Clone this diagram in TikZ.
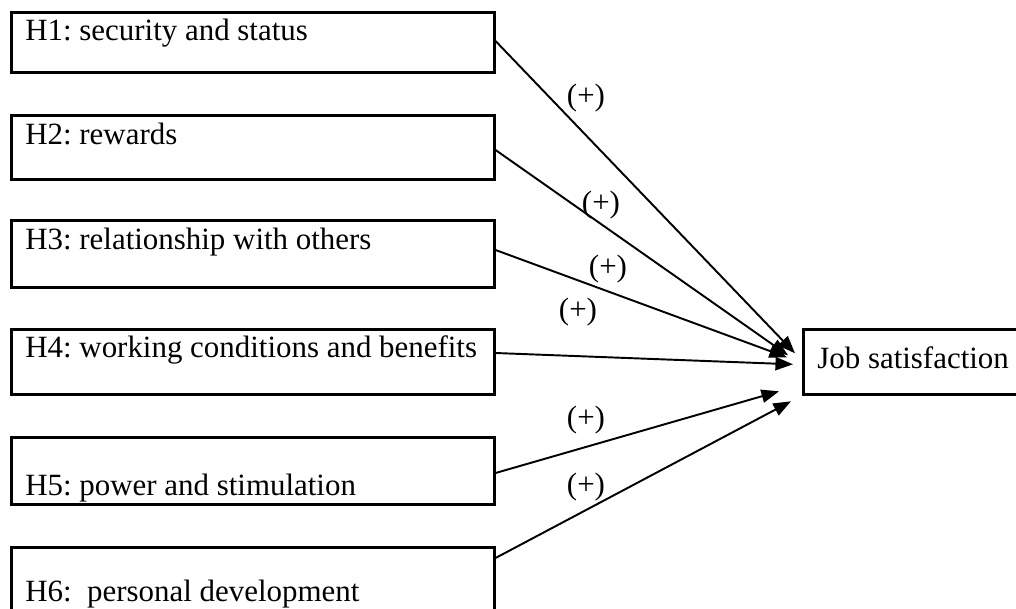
\documentclass[tikz,border=0pt]{standalone}
\usepackage{fontspec}
\setmainfont{Liberation Serif}
\usetikzlibrary{arrows.meta, calc}

\tikzset{
  hypbox/.style={draw, line width=1.5pt, rectangle, anchor=north west,
    inner xsep=0.28cm, inner ysep=0pt, text width=9.1cm, align=flush left,
    font=\fontsize{17.6}{21}\selectfont\frenchspacing},
  outbox/.style={hypbox, text width=4.1cm},
  link/.style={-{Triangle[length=10pt,width=7.5pt]}, line width=1.1pt},
  sign/.style={inner sep=0pt, font=\fontsize{17.6}{21}\selectfont}
}

\begin{document}
\begin{tikzpicture}[x=0.02cm, y=-0.02cm]
  \useasboundingbox (0,0) rectangle (1016,608);

  % Hypotheses
  \node[hypbox, text height=0.56cm, text depth=0.64cm] (h1) at (10,11) {H1: security and status};
  \node[hypbox, text height=0.58cm, text depth=0.70cm] (h2) at (10,114) {H2: rewards};
  \node[hypbox, text height=0.58cm, text depth=0.76cm] (h3) at (10,219) {H3: relationship with others};
  \node[hypbox, text height=0.56cm, text depth=0.74cm] (h4) at (10,328) {H4: working conditions and benefits};
  \node[hypbox, text height=1.16cm, text depth=0.18cm] (h5) at (10,436) {H5: power and stimulation};
  \node[hypbox, text height=1.08cm, text depth=0.34cm] (h6) at (10,546) {H6: \ personal development};

  % Outcome
  \node[outbox, text height=0.78cm, text depth=0.52cm] (jobsat) at (802,328) {Job satisfaction};

  % Paths
  \draw[link] ($(h1.north east)+(0,30)$) -- ($(jobsat.west)+(-7,-8.5)$);
  \draw[link] ($(h2.north east)+(0,36)$) -- ($(jobsat.west)+(-14,-6.5)$);
  \draw[link] ($(h3.north east)+(0,31)$) -- ($(jobsat.west)+(-15,-4.5)$);
  \draw[link] ($(h4.north east)+(0,25)$) -- ($(jobsat.west)+(-9,2.5)$);
  \draw[link] ($(h5.north east)+(0,37)$) -- ($(jobsat.west)+(-23,29.5)$);
  \draw[link] ($(h6.north east)+(0,12)$) -- ($(jobsat.west)+(-11,39.5)$);

  % Signs
  \node[sign] (s1) at (586,98) {(+)};
  \node[sign] (s2) at (601,205) {(+)};
  \node[sign] (s3) at (608,269) {(+)};
  \node[sign] (s4) at (578,312) {(+)};
  \node[sign] (s5) at (586,420) {(+)};
  \node[sign] (s6) at (586,487) {(+)};
\end{tikzpicture}
\end{document}
